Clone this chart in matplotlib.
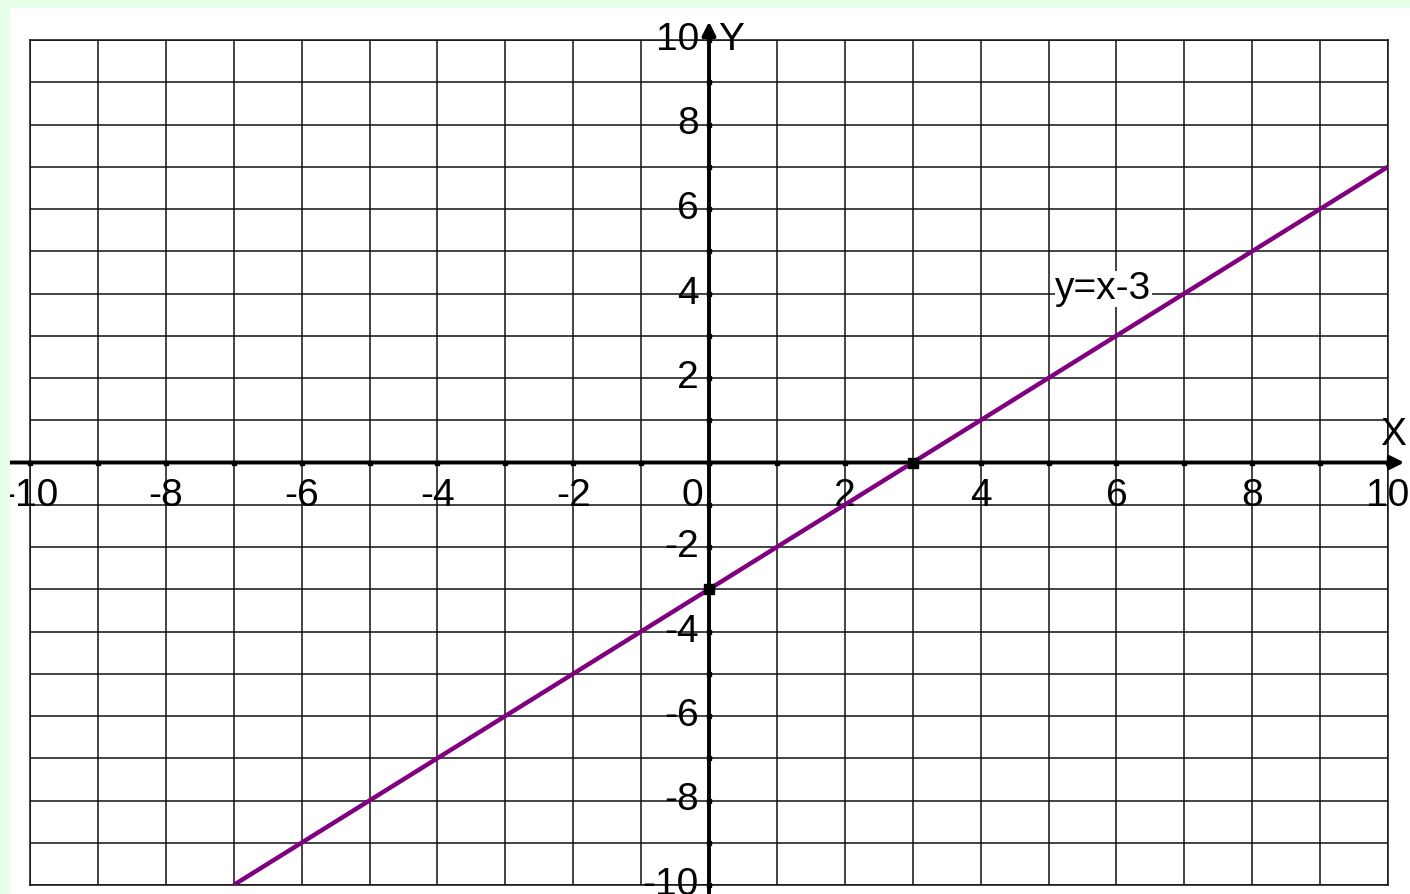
import matplotlib
matplotlib.use('Agg')
import matplotlib.pyplot as plt
from matplotlib.patches import Rectangle

plt.rcParams['font.family'] = ['Liberation Sans', 'DejaVu Sans']

# данные
line_x = [-7, 10]
line_y = [-10, 7]
pts_x = [0, 3]
pts_y = [-3, 0]
x_labels = [-10, -8, -6, -4, -2, 2, 4, 6, 8, 10]
y_labels = [10, 8, 6, 4, 2, -2, -4, -6, -8, -10]
grid_vals = list(range(-10, 11))
label_text = 'y=x-3'

W, H = 1410, 894
fig = plt.figure(figsize=(W / 100, H / 100), dpi=100)
fig.patch.set_facecolor('white')

ax = fig.add_axes([30 / W, 9 / H, (1388 - 30) / W, (885 - 40) / H])
ax.set_xlim(-10, 10)
ax.set_ylim(-10, 10)
ax.set_xticks(grid_vals)
ax.set_yticks(grid_vals)
ax.tick_params(length=0, labelbottom=False, labelleft=False)
ax.grid(True, color='#111111', lw=1.1)
for s in ax.spines.values():
    s.set_color('#111111')
    s.set_linewidth(1.1)

# оси со стрелками
ax.annotate('', xy=(10.28, 0), xytext=(-10.5, 0),
            arrowprops=dict(arrowstyle='-|>', lw=2.8, color='black', mutation_scale=20),
            annotation_clip=False)
ax.annotate('', xy=(0, 10.5), xytext=(0, -10.3),
            arrowprops=dict(arrowstyle='-|>', lw=2.8, color='black', mutation_scale=20),
            annotation_clip=False)

# засечки
ax.plot(grid_vals, [0] * len(grid_vals), 's', color='black', ms=3, clip_on=False, zorder=4)
ax.plot([0] * len(grid_vals), grid_vals, 's', color='black', ms=3, clip_on=False, zorder=4)

# подписи
for v in x_labels:
    ax.text(v, -1.04, str(v), ha='center', va='baseline', fontsize=28, clip_on=False)
ax.text(-0.24, -1.04, '0', ha='center', va='baseline', fontsize=28)
for v in y_labels:
    ax.text(-0.15, v, str(v), ha='right', va='center', fontsize=28, clip_on=False)
ax.text(0.13, 10.0, 'Y', ha='left', va='center', fontsize=28, clip_on=False)
ax.text(10.07, 0.64, 'X', ha='center', va='center', fontsize=28, clip_on=False)

# график
ax.plot(line_x, line_y, color='#800080', lw=3.2, zorder=5, solid_capstyle='butt')
ax.plot(pts_x, pts_y, 's', color='black', ms=7, zorder=6)
ax.text(5.1, 3.86, label_text, ha='left', va='baseline', fontsize=28, zorder=7,
        bbox=dict(facecolor='white', edgecolor='none', pad=0))

# зелёная рамка
green = '#e6ffe6'
fig.add_artist(Rectangle((0, 0), 10 / W, 1, transform=fig.transFigure,
                         facecolor=green, edgecolor='none', zorder=10))
fig.add_artist(Rectangle((0, 1 - 8 / H), 1, 8 / H, transform=fig.transFigure,
                         facecolor=green, edgecolor='none', zorder=10))

fig.savefig('out.png', dpi=100, facecolor=fig.get_facecolor())
